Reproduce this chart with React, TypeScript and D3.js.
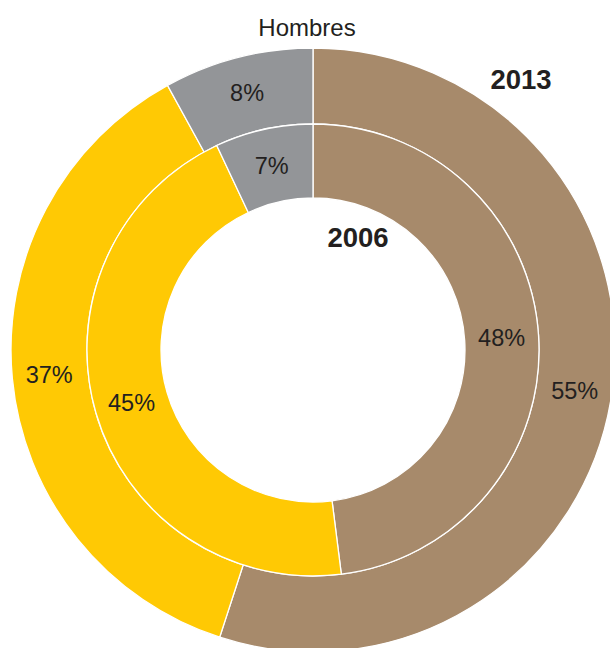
import React from "react";
import * as d3 from "d3";

const categories = ["Trabajo", "Otros", "Sin datos"];
const values2013 = [55, 37, 8];
const values2006 = [48, 45, 7];
const colors = ["#A78A6B", "#FFC904", "#939598"];
const title = "Hombres";
const outerYear = "2013";
const innerYear = "2006";

const W = 610;
const H = 648;
const cx = 313;
const cy = 350;
const rOuter = 302;
const rMid = 226;
const rHole = 152;

export default function App() {
  const pie = d3
    .pie<number>()
    .value((d) => d)
    .sort(null)
    .startAngle(0)
    .endAngle(2 * Math.PI);

  const outerArcs = pie(values2013);
  const innerArcs = pie(values2006);

  const outerArc = d3.arc<d3.PieArcDatum<number>>().innerRadius(rMid).outerRadius(rOuter);
  const innerArc = d3.arc<d3.PieArcDatum<number>>().innerRadius(rHole).outerRadius(rMid);
  const outerLabel = d3.arc<d3.PieArcDatum<number>>().innerRadius(265).outerRadius(265);
  const innerLabel = d3.arc<d3.PieArcDatum<number>>().innerRadius(189).outerRadius(189);

  const font = "'Liberation Sans', Arial, sans-serif";
  const textColor = "#231F20";

  return (
    <svg
      width={W}
      height={H}
      style={{ position: "absolute", left: 0, top: 0, display: "block" }}
    >
      <rect width={W} height={H} fill="#fff" />
      <g transform={`translate(${cx},${cy})`}>
        {outerArcs.map((a, i) => (
          <path key={"o" + categories[i]} d={outerArc(a) || ""} fill={colors[i]} stroke="#fff" strokeWidth={1.3} />
        ))}
        {innerArcs.map((a, i) => (
          <path key={"i" + categories[i]} d={innerArc(a) || ""} fill={colors[i]} stroke="#fff" strokeWidth={1.3} />
        ))}
        {outerArcs.map((a, i) => {
          const [x, y] = outerLabel.centroid(a);
          return (
            <text key={"ol" + i} x={x} y={y} textAnchor="middle" dominantBaseline="central"
              fontFamily={font} fontSize={23.5} fill={textColor}>
              {values2013[i]}%
            </text>
          );
        })}
        {innerArcs.map((a, i) => {
          const [x, y] = innerLabel.centroid(a);
          return (
            <text key={"il" + i} x={x} y={y} textAnchor="middle" dominantBaseline="central"
              fontFamily={font} fontSize={23.5} fill={textColor}>
              {values2006[i]}%
            </text>
          );
        })}
      </g>
      <text x={307} y={36} textAnchor="middle" fontFamily={font} fontSize={24} fill={textColor}>
        {title}
      </text>
      <text x={521} y={89} textAnchor="middle" fontFamily={font} fontSize={27.5} fontWeight="bold" fill={textColor}>
        {outerYear}
      </text>
      <text x={358} y={247} textAnchor="middle" fontFamily={font} fontSize={27.5} fontWeight="bold" fill={textColor}>
        {innerYear}
      </text>
    </svg>
  );
}
